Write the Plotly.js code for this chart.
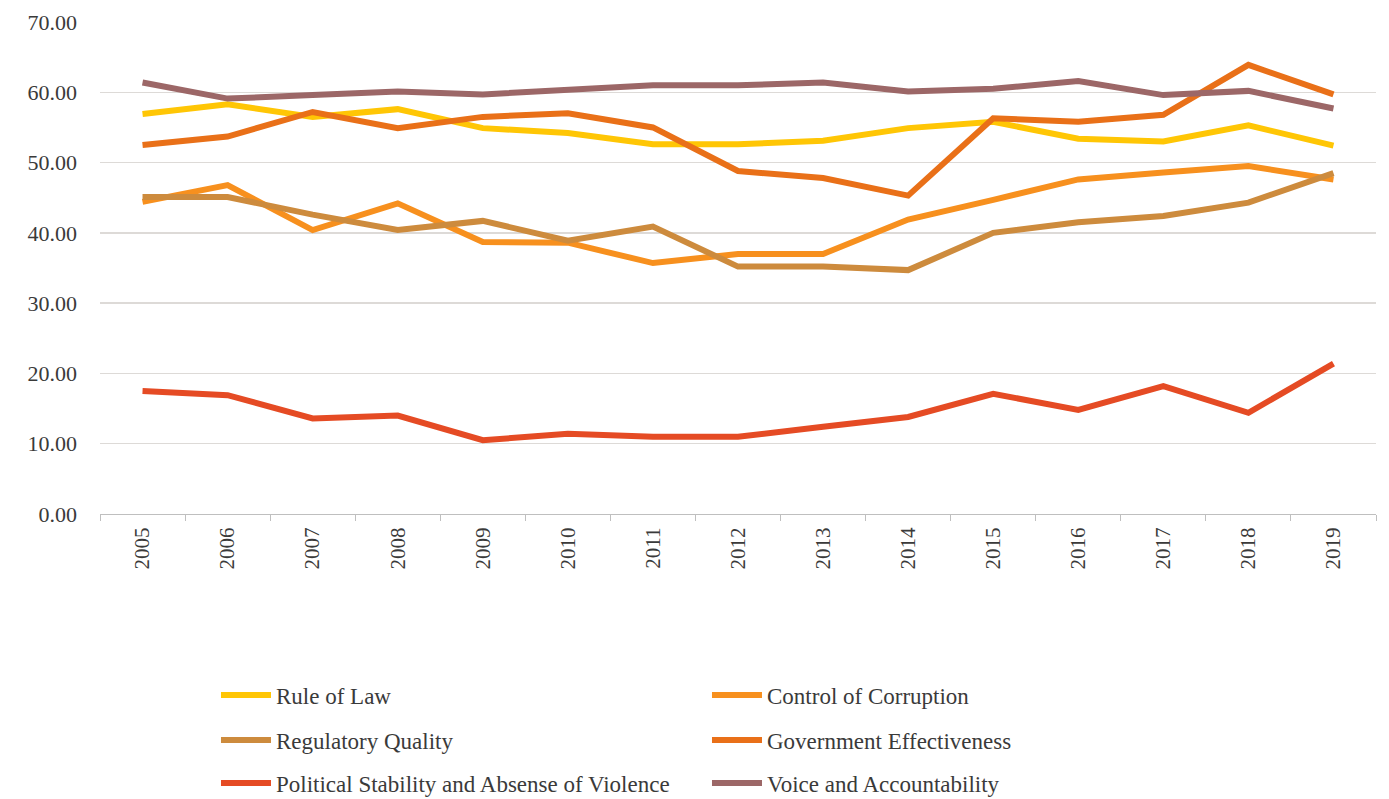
<!DOCTYPE html>
<html>
<head>
<meta charset="utf-8">
<script src="https://cdn.plot.ly/plotly-3.0.1.min.js"></script>
<style>html,body{margin:0;padding:0;background:#fff;}#chart{width:1389px;height:799px;}</style>
</head>
<body>
<div id="chart"></div>
<script>
const years = ["2005","2006","2007","2008","2009","2010","2011","2012","2013","2014","2015","2016","2017","2018","2019"];
const ruleOfLaw = [56.9,58.3,56.5,57.6,54.9,54.2,52.6,52.6,53.1,54.9,55.8,53.4,53.0,55.3,52.4];
const controlOfCorruption = [44.4,46.8,40.4,44.2,38.7,38.6,35.7,37.0,37.0,41.9,44.7,47.6,48.6,49.5,47.6];
const regulatoryQuality = [45.1,45.1,42.6,40.4,41.7,38.9,40.9,35.2,35.2,34.7,40.0,41.5,42.4,44.3,48.5];
const governmentEffectiveness = [52.5,53.7,57.2,54.9,56.5,57.0,55.0,48.8,47.8,45.3,56.3,55.8,56.8,63.9,59.7];
const politicalStability = [17.5,16.9,13.6,14.0,10.5,11.4,11.0,11.0,12.4,13.8,17.1,14.8,18.2,14.4,21.4];
const voiceAccountability = [61.4,59.1,59.6,60.1,59.7,60.3,61.0,61.0,61.4,60.1,60.5,61.6,59.6,60.2,57.7];
const seriesNames = ["Rule of Law","Control of Corruption","Regulatory Quality","Government Effectiveness","Political Stability and Absense of Violence","Voice and Accountability"];
const seriesColors = ["#FFC605","#F7901E","#CD8B3D","#E97018","#E54B24","#9C6767"];
const yTicks = [0,10,20,30,40,50,60,70];

const seriesData = [ruleOfLaw, controlOfCorruption, regulatoryQuality, governmentEffectiveness, politicalStability, voiceAccountability];
const legendIds = ["legend","legend","legend2","legend2","legend3","legend3"];
const traces = seriesData.map((vals, i) => ({
  type: "scatter", mode: "lines", x: years, y: vals, name: seriesNames[i],
  line: {color: seriesColors[i], width: 6},
  legend: legendIds[i], hoverinfo: "skip"
}));

const serif = "Liberation Serif, DejaVu Serif, serif";
const legendBase = {
  orientation: "h", xref: "container", yref: "container", xanchor: "left", yanchor: "middle",
  x: 0.1555, entrywidth: 426, entrywidthmode: "pixels", itemwidth: 50,
  font: {family: serif, size: 23, color: "#3a3a3a"},
  bgcolor: "rgba(0,0,0,0)", traceorder: "normal"
};

const layout = {
  width: 1389, height: 799,
  margin: {l: 100, r: 13, t: 22, b: 285},
  paper_bgcolor: "#fff", plot_bgcolor: "#fff",
  showlegend: true,
  xaxis: {
    type: "category", range: [-0.5, 14.5], tickson: "boundaries",
    ticks: "outside", ticklen: 6, tickcolor: "#BFBFBF",
    showline: true, linecolor: "#BFBFBF", linewidth: 1,
    showgrid: false, tickangle: -90,
    tickfont: {family: serif, size: 21, color: "#3a3a3a"},
    ticklabelstandoff: 4
  },
  yaxis: {
    range: [0, 70], tickvals: yTicks, tickformat: ".2f",
    showgrid: true, gridcolor: "#DDDAD7", gridwidth: 1.3,
    zeroline: false, showline: false, ticks: "",
    tickfont: {family: serif, size: 22, color: "#3a3a3a"},
    ticklabelstandoff: 22
  },
  legend: Object.assign({}, legendBase, {y: 1 - 695/799}),
  legend2: Object.assign({}, legendBase, {y: 1 - 740/799}),
  legend3: Object.assign({}, legendBase, {y: 1 - 783/799})
};

Plotly.newPlot("chart", traces, layout, {staticPlot: true, displayModeBar: false});
</script>
</body>
</html>
